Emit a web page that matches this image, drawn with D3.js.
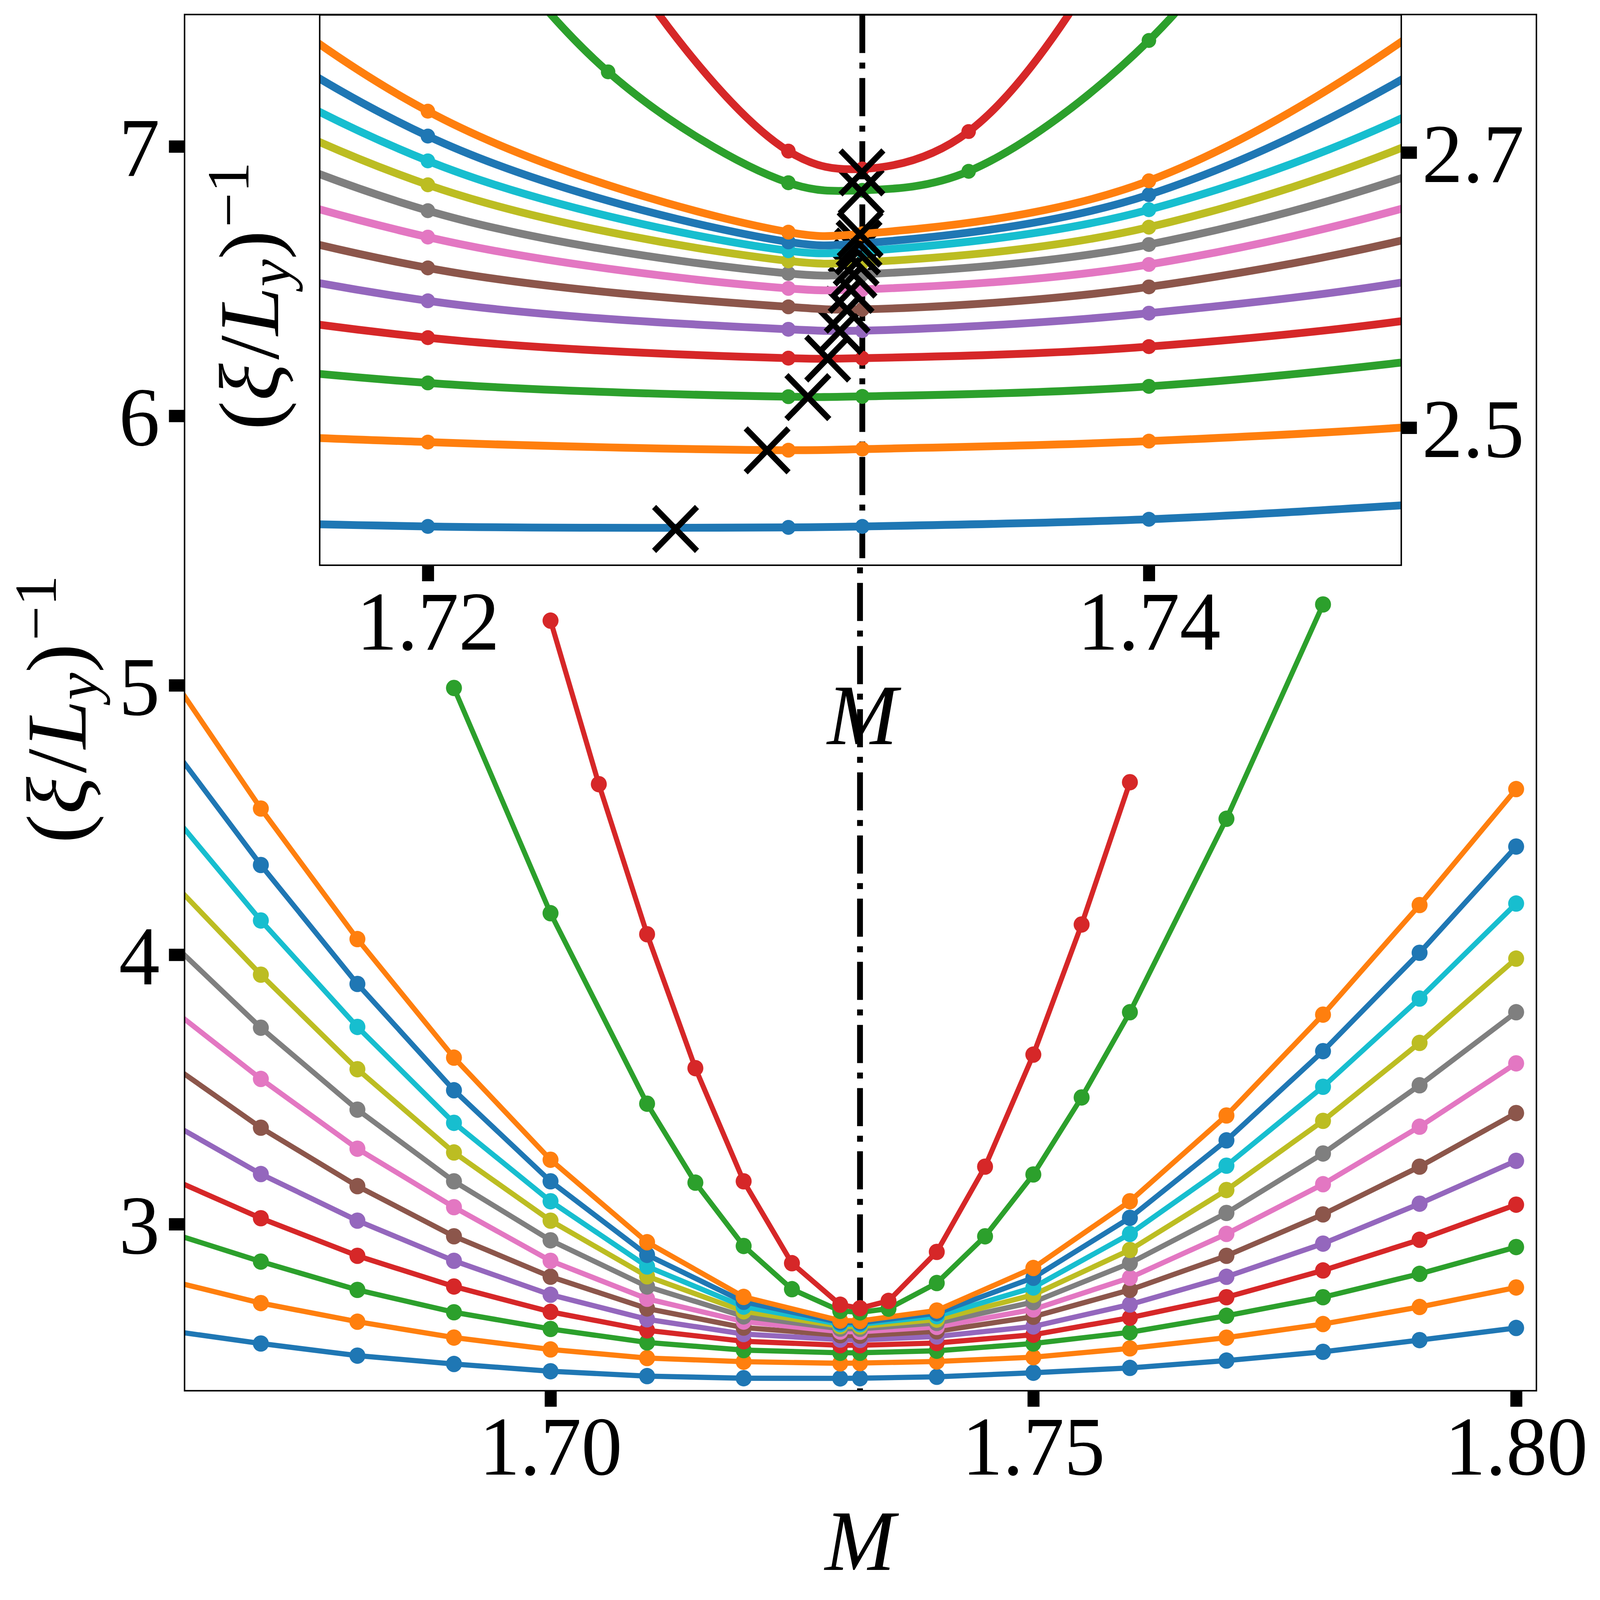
<!DOCTYPE html>
<html>
<head>
<meta charset="utf-8">
<script src="https://cdn.jsdelivr.net/npm/d3@7"></script>
<style>
html,body{margin:0;padding:0;background:#fff;overflow:hidden;width:100%;height:100%;}
svg{display:block;width:100vw;height:100vh;}
</style>
</head>
<body>
<svg id="chart" viewBox="0 0 4404 4297" preserveAspectRatio="none"></svg>
<script>
// ---------------- data ----------------
const critM = 1.7320508;
const mGrid = [1.66, 1.67, 1.68, 1.69, 1.70, 1.71, 1.72, 1.73, 1.7320508, 1.74, 1.75, 1.76, 1.77, 1.78, 1.79, 1.80];
const curve01 = [2.607, 2.557, 2.512, 2.481, 2.454, 2.436, 2.4282, 2.4275, 2.4282, 2.4334, 2.4485, 2.4665, 2.4937, 2.5262, 2.5696, 2.6148];
const curve02 = [2.795, 2.707, 2.638, 2.579, 2.535, 2.503, 2.4895, 2.4836, 2.4844, 2.4902, 2.5063, 2.5389, 2.5787, 2.6293, 2.6926, 2.7649];
const curve03 = [2.975, 2.861, 2.756, 2.673, 2.611, 2.561, 2.5325, 2.5225, 2.5227, 2.5300, 2.557, 2.5986, 2.660, 2.7288, 2.8156, 2.915];
const curve04 = [3.18, 3.022, 2.8825, 2.7685, 2.6745, 2.6058, 2.5654, 2.5505, 2.5505, 2.5589, 2.5895, 2.6528, 2.7288, 2.8282, 2.9421, 3.0723];
const curve05 = [3.39, 3.186, 3.013, 2.864, 2.738, 2.647, 2.5922, 2.5715, 2.5705, 2.5832, 2.6203, 2.7016, 2.8047, 2.9277, 3.0759, 3.2351];
const curve06 = [3.61, 3.358, 3.141, 2.955, 2.805, 2.687, 2.6161, 2.5878, 2.5860, 2.6023, 2.6564, 2.7559, 2.8825, 3.0362, 3.2134, 3.4123];
const curve07 = [3.82, 3.539, 3.280, 3.063, 2.864, 2.723, 2.6385, 2.6012, 2.6005, 2.6186, 2.6835, 2.8011, 2.9638, 3.1483, 3.3617, 3.5967];
const curve08 = [4.07, 3.729, 3.425, 3.159, 2.940, 2.7685, 2.6577, 2.6121, 2.6115, 2.6331, 2.7107, 2.8553, 3.0416, 3.2622, 3.5154, 3.7866];
const curve09 = [4.30, 3.926, 3.575, 3.266, 3.013, 2.8065, 2.6765, 2.6212, 2.6202, 2.6457, 2.7378, 2.9042, 3.1266, 3.3834, 3.6727, 3.9855];
const curve10 = [4.557, 4.127, 3.732, 3.376, 3.085, 2.843, 2.6939, 2.6286, 2.6283, 2.6584, 2.7649, 2.9638, 3.2170, 3.5099, 3.8373, 4.1899];
const curve11 = [4.81, 4.333, 3.8915, 3.497, 3.159, 2.886, 2.7119, 2.6350, 2.6340, 2.6693, 2.8011, 3.0235, 3.3110, 3.6420, 4.0072, 4.4014];
const curve12 = [5.07, 4.5425, 4.058, 3.618, 3.239, 2.933, 2.7300, 2.6421, 2.6409, 2.6794, 2.8373, 3.0850, 3.4033, 3.7776, 4.1844, 4.6148];
const mGrid13 = [1.69, 1.70, 1.71, 1.715, 1.72, 1.725, 1.73, 1.7320508, 1.735, 1.74, 1.745, 1.75, 1.755, 1.76, 1.77, 1.78];
const curve13 = [4.99, 4.154, 3.447, 3.154, 2.919, 2.7586, 2.678, 2.6725, 2.6863, 2.7814, 2.9548, 3.1844, 3.4702, 3.7866, 4.5045, 5.30];
const mGrid14 = [1.70, 1.705, 1.71, 1.715, 1.72, 1.725, 1.73, 1.7320508, 1.735, 1.74, 1.745, 1.75, 1.755, 1.76];
const curve14 = [5.24, 4.633, 4.076, 3.579, 3.159, 2.855, 2.701, 2.688, 2.7152, 2.897, 3.2134, 3.6293, 4.1121, 4.6402];
// positions of the minima (inset crosses)
const minM = [1.72687, 1.72941, 1.73054, 1.73109, 1.73143, 1.73163, 1.73174, 1.73182, 1.73188, 1.73192, 1.73196, 1.73199, 1.73202, 1.73204];
const minV = [2.4264, 2.4835, 2.5222, 2.5502, 2.5702, 2.5857, 2.6001, 2.6112, 2.6200, 2.6280, 2.6337, 2.6405, 2.6716, 2.6855];
const tab10 = ["#1f77b4","#ff7f0e","#2ca02c","#d62728","#9467bd","#8c564b","#e377c2","#7f7f7f","#bcbd22","#17becf"];
const mainXTicks = [1.70, 1.75, 1.80];
const mainYTicks = [3, 4, 5, 6, 7];
const insetXTicks = [1.72, 1.74];
const insetYTicks = [2.5, 2.7];

// ---------------- layout ----------------
const FONT = "'Liberation Serif','Times New Roman',serif";
const FS = 225;
const ML = 508, MR = 4229, MT = 39, MB = 3735;
const IL = 880, IR = 3857, IT = 40, IB = 1518;

const xM = d3.scaleLinear().domain([1.6621, 1.8021]).range([ML, MR]);
const yM = d3.scaleLinear().domain([2.3817, 7.4895]).range([MB, MT]);
const xI = d3.scaleLinear().domain([1.717, 1.747]).range([IL, IR]);
const yI = d3.scaleLinear().domain([2.4, 2.8]).range([IB, IT]);

const allM = [mGrid, mGrid, mGrid, mGrid, mGrid, mGrid, mGrid, mGrid, mGrid, mGrid, mGrid, mGrid, mGrid13, mGrid14];
const allV = [curve01, curve02, curve03, curve04, curve05, curve06, curve07, curve08, curve09, curve10, curve11, curve12, curve13, curve14];
const series = allV.map((v, i) => ({
  pts: allM[i].map((m, j) => [m, v[j]]),
  color: tab10[i % 10],
  min: [minM[i], minV[i]]
}));

const svg = d3.select("#chart");
svg.append("rect").attr("width", 4404).attr("height", 4297).attr("fill", "#fff");
const defs = svg.append("defs");
defs.append("clipPath").attr("id", "clipMain").append("rect")
  .attr("x", ML).attr("y", MT).attr("width", MR - ML).attr("height", MB - MT);
defs.append("clipPath").attr("id", "clipInset").append("rect")
  .attr("x", IL).attr("y", IT).attr("width", IR - IL).attr("height", IB - IT);

const dashDot = "102.4,25.6,16,25.6";

// ---------------- main panel ----------------
const gMain = svg.append("g").attr("clip-path", "url(#clipMain)");
gMain.append("line")
  .attr("x1", xM(critM)).attr("x2", xM(critM)).attr("y1", MT).attr("y2", MB)
  .attr("stroke", "#000").attr("stroke-width", 16).attr("stroke-dasharray", dashDot);

const lineMain = d3.line().x(d => xM(d[0])).y(d => yM(d[1]));
series.forEach(s => {
  gMain.append("path").datum(s.pts).attr("d", lineMain)
    .attr("fill", "none").attr("stroke", s.color).attr("stroke-width", 14)
    .attr("stroke-linejoin", "round");
  gMain.append("g").selectAll("circle").data(s.pts).join("circle")
    .attr("cx", d => xM(d[0])).attr("cy", d => yM(d[1])).attr("r", 22)
    .attr("fill", s.color);
});

svg.append("rect").attr("x", ML).attr("y", MT).attr("width", MR - ML).attr("height", MB - MT)
  .attr("fill", "none").attr("stroke", "#000").attr("stroke-width", 4);

function styleAxis(g) {
  g.select(".domain").remove();
  g.selectAll(".tick line").attr("stroke", "#000").attr("stroke-width", 33);
  g.selectAll(".tick text").attr("fill", "#000")
    .style("font-family", FONT).style("font-size", FS + "px");
}

const axMB = svg.append("g").attr("transform", `translate(0,${MB})`)
  .call(d3.axisBottom(xM).tickValues(mainXTicks).tickFormat(d3.format(".2f"))
    .tickSize(43).tickSizeOuter(0).tickPadding(22));
styleAxis(axMB);

const axML = svg.append("g").attr("transform", `translate(${ML},0)`)
  .call(d3.axisLeft(yM).tickValues(mainYTicks).tickFormat(d3.format("d"))
    .tickSize(43).tickSizeOuter(0).tickPadding(25));
styleAxis(axML);
axML.selectAll(".tick text").attr("dy", "0.35em");

// axis labels
function mLabel(x, y) {
  svg.append("text").attr("x", x).attr("y", y).attr("text-anchor", "middle")
    .style("font-family", FONT).style("font-size", "232px").style("font-style", "italic")
    .text("M");
}
function yLabel(x, y) {
  const t = svg.append("text").attr("transform", `translate(${x},${y}) rotate(-90)`)
    .attr("text-anchor", "middle")
    .style("font-family", FONT).style("font-size", "235px");
  t.append("tspan").text("(");
  t.append("tspan").style("font-style", "italic").text("ξ");
  t.append("tspan").attr("dx", 10).text("/");
  t.append("tspan").style("font-style", "italic").text("L");
  t.append("tspan").style("font-style", "italic").style("font-size", "165px").attr("dy", 32).text("y");
  t.append("tspan").attr("dy", -32).text(")");
  t.append("tspan").style("font-size", "165px").attr("dy", -82).attr("dx", 8).text("−1");
}
mLabel(xM(critM), 4216);
yLabel(236, 1905);

// ---------------- inset ----------------
svg.append("rect").attr("x", IL).attr("y", IT).attr("width", IR - IL).attr("height", IB - IT)
  .attr("fill", "#fff");
const gIn = svg.append("g").attr("clip-path", "url(#clipInset)");
gIn.append("line")
  .attr("x1", xI(critM)).attr("x2", xI(critM)).attr("y1", IT).attr("y2", IB)
  .attr("stroke", "#000").attr("stroke-width", 16).attr("stroke-dasharray", dashDot);

const lineInset = d3.line().x(d => xI(d[0])).y(d => yI(d[1])).curve(d3.curveCatmullRom.alpha(0.5));
series.forEach(s => {
  gIn.append("path").datum(s.pts).attr("d", lineInset)
    .attr("fill", "none").attr("stroke", s.color).attr("stroke-width", 21)
    .attr("stroke-linejoin", "round");
  gIn.append("g").selectAll("circle").data(s.pts).join("circle")
    .attr("cx", d => xI(d[0])).attr("cy", d => yI(d[1])).attr("r", 20)
    .attr("fill", s.color);
  gIn.append("path")
    .attr("transform", `translate(${xI(s.min[0])},${yI(s.min[1])})`)
    .attr("d", "M-59,-59L59,59M-59,59L59,-59")
    .attr("stroke", "#000").attr("stroke-width", 16).attr("fill", "none");
});

svg.append("rect").attr("x", IL).attr("y", IT).attr("width", IR - IL).attr("height", IB - IT)
  .attr("fill", "none").attr("stroke", "#000").attr("stroke-width", 4);

const axIB = svg.append("g").attr("transform", `translate(0,${IB})`)
  .call(d3.axisBottom(xI).tickValues(insetXTicks).tickFormat(d3.format(".2f"))
    .tickSize(43).tickSizeOuter(0).tickPadding(24));
styleAxis(axIB);

const axIR = svg.append("g").attr("transform", `translate(${IR},0)`)
  .call(d3.axisRight(yI).tickValues(insetYTicks).tickFormat(d3.format(".1f"))
    .tickSize(43).tickSizeOuter(0).tickPadding(14));
styleAxis(axIR);
axIR.selectAll(".tick text").attr("dy", "0.35em");

mLabel(xI(critM), 1998);
yLabel(766, 795);
</script>
</body>
</html>
